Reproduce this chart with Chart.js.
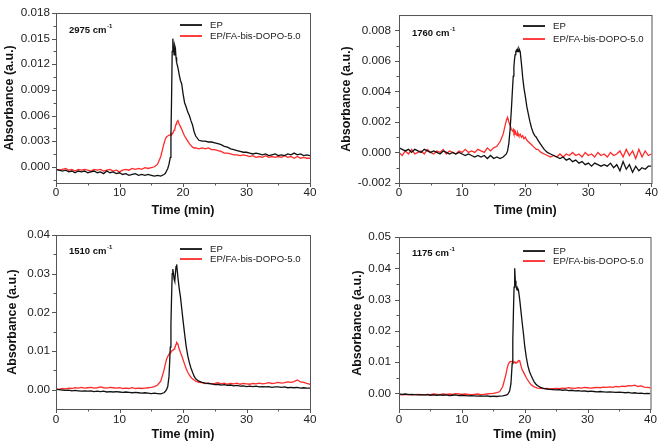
<!DOCTYPE html>
<html>
<head>
<meta charset="utf-8">
<script src="https://cdn.jsdelivr.net/npm/chart.js@4.4.1/dist/chart.umd.min.js"></script>
<style>
  html, body { margin: 0; padding: 0; background: #fff; }
  #wrap { position: relative; width: 661px; height: 444px; overflow: hidden; }
  #wrap canvas { position: absolute; }
</style>
</head>
<body>
<div id="wrap">
  <canvas id="c2975" width="330" height="222" style="left:0;top:0"></canvas>
  <canvas id="c1760" width="331" height="222" style="left:330px;top:0"></canvas>
  <canvas id="c1510" width="330" height="222" style="left:0;top:222px"></canvas>
  <canvas id="c1175" width="331" height="222" style="left:330px;top:222px"></canvas>
</div>
<script>
// time axis (min), shared by all four panels
const TIME = [0,0.5,1,1.5,2,2.5,3,3.5,4,4.5,5,5.5,6,6.5,7,7.5,8,8.5,9,9.5,10,10.5,11,11.5,12,12.5,13,13.5,14,14.5,15,
  15.5,16,16.5,17,
  17.2,17.4,17.6,17.8,18,18.1,18.2,18.3,18.4,18.5,18.6,18.7,18.8,18.9,19,19.2,19.4,19.6,19.8,20,
  20.25,20.5,20.75,21,21.25,21.5,21.75,22,22.5,23,
  23.5,24,24.5,25,25.5,26,26.5,27,27.5,28,28.5,29,29.5,30,30.5,31,31.5,32,32.5,33,33.5,34,34.5,35,35.5,36,36.5,37,37.5,38,38.5,39,39.5,40];

const SERIES_NAMES = ['EP', 'EP/FA-bis-DOPO-5.0'];
const X_TICKS = [0, 10, 20, 30, 40];

// 2975 cm-1
const EP_2975 = [-0.0003,-0.0004,-0.0005,-0.0004,-0.0006,-0.0005,-0.0007,-0.0005,-0.0006,-0.0005,-0.0007,-0.0006,-0.0005,-0.0007,-0.0006,-0.0008,-0.0005,-0.0007,-0.0006,-0.0008,-0.0007,-0.0009,-0.0008,-0.0010,-0.0009,-0.0008,-0.0010,-0.0009,-0.0010,-0.0009,-0.0010,
  -0.0011,-0.0010,-0.0011,-0.0009,
  -0.0008,-0.0005,-0.0002,0.0003,0.0011,0.0035,0.0080,0.0135,0.0150,0.0138,0.0131,0.0142,0.0139,0.0128,0.0122,0.0116,0.0108,0.0101,0.0097,0.0086,
  0.0075,0.0070,0.0064,0.0060,0.0054,0.0049,0.0041,0.0036,0.0031,0.0030,
  0.0030,0.0029,0.0029,0.0028,0.0027,0.0026,0.0024,0.0023,0.0021,0.0020,0.0019,0.0018,0.0017,0.0017,0.0016,0.0015,0.0016,0.0015,0.0014,0.0015,0.0013,0.0014,0.0015,0.0013,0.0014,0.0013,0.0015,0.0014,0.0016,0.0014,0.0015,0.0013,0.0014,0.0013];
const FA_2975 = [-0.0003,-0.0004,-0.0003,-0.0002,-0.0004,-0.0003,-0.0005,-0.0003,-0.0004,-0.0003,-0.0004,-0.0005,-0.0003,-0.0004,-0.0003,-0.0005,-0.0004,-0.0003,-0.0005,-0.0004,-0.0006,-0.0004,-0.0003,-0.0004,-0.0002,-0.0003,-0.0002,-0.0003,-0.0001,-0.0002,-0.0001,
  0.0000,0.0003,0.0012,0.0027,
  0.0032,0.0035,0.0036,0.0037,0.0037,0.0038,0.0037,0.0039,0.0040,0.0041,0.0043,0.0044,0.0047,0.0050,0.0052,0.0054,0.0050,0.0047,0.0044,0.0040,
  0.0036,0.0033,0.0030,0.0027,0.0025,0.0023,0.0022,0.0022,0.0021,0.0022,
  0.0021,0.0022,0.0020,0.0020,0.0019,0.0018,0.0016,0.0016,0.0015,0.0014,0.0014,0.0013,0.0014,0.0013,0.0012,0.0013,0.0011,0.0012,0.0011,0.0013,0.0011,0.0012,0.0011,0.0012,0.0011,0.0013,0.0011,0.0012,0.0010,0.0012,0.0010,0.0011,0.0010,0.0010];
const TICKS_2975 = [0, 0.003, 0.006, 0.009, 0.012, 0.015, 0.018];

// 1760 cm-1
const EP_1760 = [0.0003,0.0002,0.0001,0.0002,0.0000,0.0002,0.0001,0.0000,0.0002,0.0001,0.0000,0.0001,0.0000,-0.0001,0.0001,0.0000,-0.0001,0.0000,-0.0001,0.0000,-0.0001,-0.0002,-0.0001,-0.0002,-0.0003,-0.0002,-0.0003,-0.0002,-0.0004,-0.0002,-0.0004,
  -0.0003,-0.0004,-0.0003,-0.0001,
  0.0001,0.0006,0.0015,0.0028,0.0043,0.0050,0.0056,0.0061,0.0064,0.0066,0.0067,0.0066,0.0067,0.0066,0.0068,0.0066,0.0058,0.0049,0.0042,0.0037,
  0.0030,0.0025,0.0020,0.0016,0.0013,0.0011,0.0010,0.0008,0.0005,0.0002,
  0.0000,-0.0001,-0.0002,-0.0003,-0.0004,-0.0003,-0.0005,-0.0004,-0.0006,-0.0005,-0.0007,-0.0006,-0.0008,-0.0007,-0.0009,-0.0007,-0.0008,-0.0009,-0.0008,-0.0009,-0.0007,-0.0010,-0.0008,-0.0012,-0.0006,-0.0011,-0.0008,-0.0013,-0.0009,-0.0012,-0.0010,-0.0011,-0.0009,-0.0009];
const FA_1760 = [0.0000,-0.0002,0.0001,-0.0001,0.0002,-0.0001,0.0000,0.0001,-0.0001,0.0002,0.0000,-0.0001,0.0001,0.0000,0.0002,-0.0001,0.0001,0.0000,-0.0001,0.0001,0.0000,0.0002,0.0000,0.0001,0.0000,0.0002,0.0001,0.0000,0.0003,0.0001,0.0003,
  0.0004,0.0007,0.0012,0.0021,
  0.0023,0.0020,0.0018,0.0015,0.0014,0.0015,0.0013,0.0014,0.0012,0.0013,0.0012,0.0011,0.0013,0.0012,0.0011,0.0012,0.0010,0.0011,0.0009,0.0010,
  0.0008,0.0007,0.0006,0.0005,0.0004,0.0003,0.0002,0.0002,0.0000,-0.0001,
  -0.0002,-0.0003,-0.0002,-0.0003,-0.0001,-0.0003,-0.0001,-0.0002,0.0000,-0.0002,-0.0001,-0.0003,0.0000,-0.0002,-0.0001,-0.0003,0.0000,-0.0002,-0.0001,-0.0003,0.0000,-0.0002,-0.0001,0.0001,-0.0003,0.0002,-0.0002,0.0001,-0.0004,0.0002,-0.0003,0.0001,-0.0002,-0.0001];
const TICKS_1760 = [-0.002, 0, 0.002, 0.004, 0.006, 0.008];

// 1510 cm-1
const EP_1510 = [0.0001,0.0000,-0.0001,-0.0002,-0.0001,-0.0003,-0.0002,-0.0003,-0.0004,-0.0003,-0.0004,-0.0003,-0.0005,-0.0004,-0.0005,-0.0004,-0.0006,-0.0005,-0.0006,-0.0005,-0.0006,-0.0007,-0.0006,-0.0007,-0.0008,-0.0007,-0.0008,-0.0009,-0.0008,-0.0009,-0.0010,
  -0.0009,-0.0010,-0.0011,-0.0008,
  -0.0005,0.0000,0.0008,0.0035,0.0110,0.0170,0.0240,0.0300,0.0312,0.0300,0.0285,0.0280,0.0300,0.0318,0.0324,0.0290,0.0262,0.0240,0.0210,0.0180,
  0.0145,0.0112,0.0088,0.0070,0.0056,0.0045,0.0035,0.0028,0.0022,0.0019,
  0.0017,0.0016,0.0015,0.0013,0.0014,0.0012,0.0013,0.0011,0.0012,0.0010,0.0011,0.0009,0.0010,0.0008,0.0009,0.0008,0.0009,0.0007,0.0008,0.0007,0.0008,0.0006,0.0007,0.0007,0.0006,0.0007,0.0005,0.0006,0.0005,0.0006,0.0004,0.0005,0.0004,0.0004];
const FA_1510 = [0.0002,0.0001,0.0003,0.0002,0.0004,0.0003,0.0005,0.0004,0.0006,0.0004,0.0005,0.0006,0.0004,0.0005,0.0007,0.0005,0.0004,0.0006,0.0005,0.0004,0.0005,0.0003,0.0004,0.0003,0.0005,0.0003,0.0004,0.0003,0.0004,0.0005,0.0006,
  0.0008,0.0012,0.0022,0.0050,
  0.0065,0.0078,0.0086,0.0092,0.0096,0.0098,0.0100,0.0101,0.0102,0.0104,0.0105,0.0108,0.0112,0.0118,0.0122,0.0118,0.0105,0.0096,0.0088,0.0078,
  0.0066,0.0054,0.0045,0.0038,0.0032,0.0028,0.0025,0.0022,0.0019,0.0018,
  0.0016,0.0017,0.0015,0.0016,0.0018,0.0015,0.0017,0.0014,0.0016,0.0015,0.0017,0.0014,0.0016,0.0015,0.0014,0.0016,0.0015,0.0017,0.0015,0.0016,0.0018,0.0016,0.0017,0.0019,0.0017,0.0018,0.0020,0.0019,0.0021,0.0025,0.0020,0.0019,0.0016,0.0014];
const TICKS_1510 = [0, 0.01, 0.02, 0.03, 0.04];

// 1175 cm-1
const EP_1175 = [-0.0002,-0.0003,-0.0002,-0.0004,-0.0003,-0.0004,-0.0005,-0.0004,-0.0005,-0.0004,-0.0006,-0.0005,-0.0006,-0.0005,-0.0006,-0.0005,-0.0007,-0.0006,-0.0005,-0.0007,-0.0006,-0.0007,-0.0008,-0.0007,-0.0008,-0.0009,-0.0008,-0.0009,-0.0008,-0.0010,-0.0009,
  -0.0010,-0.0009,-0.0008,-0.0006,
  -0.0004,0.0000,0.0008,0.0030,0.0095,0.0170,0.0260,0.0340,0.0400,0.0360,0.0345,0.0335,0.0330,0.0335,0.0330,0.0300,0.0262,0.0225,0.0190,0.0150,
  0.0115,0.0088,0.0070,0.0058,0.0047,0.0037,0.0030,0.0025,0.0019,0.0016,
  0.0014,0.0013,0.0012,0.0011,0.0012,0.0010,0.0011,0.0009,0.0010,0.0008,0.0009,0.0007,0.0008,0.0006,0.0007,0.0006,0.0005,0.0006,0.0005,0.0004,0.0005,0.0004,0.0003,0.0004,0.0003,0.0002,0.0003,0.0001,0.0002,0.0000,0.0001,-0.0001,0.0000,-0.0001];
const FA_1175 = [-0.0004,-0.0005,-0.0004,-0.0003,-0.0005,-0.0004,-0.0003,-0.0004,-0.0005,-0.0003,-0.0004,-0.0002,-0.0003,-0.0004,-0.0002,-0.0003,-0.0002,-0.0003,-0.0001,-0.0002,-0.0003,-0.0002,-0.0003,-0.0004,-0.0003,-0.0002,-0.0004,-0.0003,-0.0002,-0.0001,0.0000,
  0.0002,0.0005,0.0022,0.0060,
  0.0080,0.0094,0.0100,0.0102,0.0101,0.0103,0.0100,0.0098,0.0099,0.0097,0.0099,0.0098,0.0100,0.0102,0.0105,0.0104,0.0088,0.0075,0.0068,0.0060,
  0.0050,0.0042,0.0034,0.0028,0.0024,0.0021,0.0019,0.0017,0.0016,0.0015,
  0.0016,0.0014,0.0015,0.0016,0.0015,0.0017,0.0016,0.0018,0.0017,0.0016,0.0018,0.0017,0.0019,0.0018,0.0017,0.0018,0.0019,0.0018,0.0020,0.0019,0.0021,0.0019,0.0022,0.0021,0.0023,0.0022,0.0025,0.0024,0.0026,0.0022,0.0024,0.0020,0.0019,0.0018];
const TICKS_1175 = [0, 0.01, 0.02, 0.03, 0.04, 0.05];

[EP_2975, FA_2975, EP_1760, FA_1760, EP_1510, FA_1510, EP_1175, FA_1175].forEach((a, i) => {
  if (a.length !== TIME.length) throw new Error('series ' + i + ' has ' + a.length + ' points');
});

const FONT = '"Liberation Sans", Arial, sans-serif';

// layout of each panel (canvas size, plot box inside it)
const panels = [
  { id: 'c2975', band: '2975', ep: EP_2975, fa: FA_2975, yTicks: TICKS_2975, yMin: -0.0019, yMax: 0.018, dec: 3,
    w: 330, h: 222, box: { l: 56, t: 6, r: 310, b: 183 }, yTitlePad: 2.5, xTitlePad: 3.8, xTickPad: 3, yTickPad: 6, legY: [12, 23], noteY: 17 },
  { id: 'c1760', band: '1760', ep: EP_1760, fa: FA_1760, yTicks: TICKS_1760, yMin: -0.002, yMax: 0.009, dec: 3,
    w: 331, h: 222, box: { l: 69, t: 5, r: 323, b: 183 }, yTitlePad: 9, xTitlePad: 3.8, xTickPad: 3, yTickPad: 8, legY: [11, 24], noteY: 18 },
  { id: 'c1510', band: '1510', ep: EP_1510, fa: FA_1510, yTicks: TICKS_1510, yMin: -0.005, yMax: 0.04, dec: 2,
    w: 330, h: 222, box: { l: 56, t: 9, r: 310, b: 187 }, yTitlePad: 5.5, xTitlePad: 2.2, xTickPad: 4, yTickPad: 6, legY: [14, 24], noteY: 16 },
  { id: 'c1175', band: '1175', ep: EP_1175, fa: FA_1175, yTicks: TICKS_1175, yMin: -0.005, yMax: 0.05, dec: 2,
    w: 331, h: 222, box: { l: 69, t: 9, r: 323, b: 187 }, yTitlePad: 20, xTitlePad: 2.2, xTickPad: 4, yTickPad: 8, legY: [14, 24], noteY: 16 }
];

// frame, outward major/minor ticks, legend and band label
const decor = {
  id: 'decor',
  afterDraw(chart, args, opts) {
    const { ctx, chartArea: a, scales } = chart;
    const p = opts.panel;
    ctx.save();
    ctx.strokeStyle = '#555';
    ctx.lineWidth = 1;
    ctx.strokeRect(a.left + 0.5, a.top + 0.5, a.right - a.left, a.bottom - a.top);

    const xs = scales.x, ys = scales.y;
    ctx.beginPath();
    X_TICKS.forEach((v, i) => {
      const px = Math.round(xs.getPixelForValue(v)) + 0.5;
      ctx.moveTo(px, a.bottom); ctx.lineTo(px, a.bottom + 4);
      if (i < X_TICKS.length - 1) {
        const mx = Math.round(xs.getPixelForValue((v + X_TICKS[i + 1]) / 2)) + 0.5;
        ctx.moveTo(mx, a.bottom); ctx.lineTo(mx, a.bottom + 2.5);
      }
    });
    p.yTicks.forEach((v, i) => {
      const py = Math.round(ys.getPixelForValue(v)) + 0.5;
      ctx.moveTo(a.left, py); ctx.lineTo(a.left - 4, py);
      const next = i < p.yTicks.length - 1 ? p.yTicks[i + 1] : null;
      const prev = i > 0 ? p.yTicks[i - 1] : null;
      const step = next !== null ? next - v : v - prev;
      [v + step / 2, v - step / 2].forEach(m => {
        if (m > p.yMin && m < p.yMax && (m > v || i === 0)) {
          const my = Math.round(ys.getPixelForValue(m)) + 0.5;
          ctx.moveTo(a.left, my); ctx.lineTo(a.left - 2.5, my);
        }
      });
    });
    ctx.stroke();

    // legend
    const lx = a.left + 124;
    const colors = ['#111', '#ff2a2a'];
    ctx.font = '9.6px ' + FONT;
    ctx.textBaseline = 'middle';
    SERIES_NAMES.forEach((name, i) => {
      const ly = a.top + p.legY[i];
      ctx.strokeStyle = colors[i];
      ctx.lineWidth = 1.8;
      ctx.beginPath();
      ctx.moveTo(lx, ly); ctx.lineTo(lx + 22, ly);
      ctx.stroke();
      ctx.fillStyle = '#222';
      ctx.fillText(name, lx + 30, ly);
    });

    // band label with superscript
    const nx = a.left + 13, ny = a.top + p.noteY;
    ctx.fillStyle = '#111';
    ctx.font = 'bold 9.5px ' + FONT;
    const txt = p.band + ' cm';
    ctx.fillText(txt, nx, ny);
    const tw = ctx.measureText(txt).width;
    ctx.font = 'bold 6px ' + FONT;
    ctx.fillText('-1', nx + tw + 0.5, ny - 4);
    ctx.restore();
  }
};

panels.forEach(p => {
  const el = document.getElementById(p.id);
  new Chart(el, {
    type: 'line',
    data: {
      datasets: [
        {
          label: SERIES_NAMES[0],
          data: TIME.map((t, i) => ({ x: t, y: p.ep[i] })),
          borderColor: '#111',
          borderWidth: 1.3,
          pointRadius: 0,
          tension: 0
        },
        {
          label: SERIES_NAMES[1],
          data: TIME.map((t, i) => ({ x: t, y: p.fa[i] })),
          borderColor: '#ff2a2a',
          borderWidth: 1.3,
          pointRadius: 0,
          tension: 0
        }
      ]
    },
    options: {
      responsive: false,
      animation: false,
      events: [],
      layout: { padding: { left: 0, top: p.box.t, right: p.w - p.box.r, bottom: 0 } },
      plugins: {
        legend: { display: false },
        tooltip: { enabled: false },
        decor: { panel: p }
      },
      scales: {
        x: {
          type: 'linear',
          min: 0,
          max: 40,
          afterBuildTicks: s => { s.ticks = X_TICKS.map(v => ({ value: v })); },
          afterFit: s => { s.height = p.h - p.box.b; },
          grid: { display: false, drawTicks: false },
          border: { display: false },
          ticks: {
            padding: p.xTickPad,
            color: '#222',
            font: { family: FONT, size: 11.7 },
            maxRotation: 0
          },
          title: {
            display: true,
            text: 'Time (min)',
            color: '#111',
            font: { family: FONT, size: 12.5, weight: 'bold' },
            padding: { top: 0, bottom: p.xTitlePad }
          }
        },
        y: {
          min: p.yMin,
          max: p.yMax,
          afterBuildTicks: s => { s.ticks = p.yTicks.map(v => ({ value: v })); },
          afterFit: s => { s.width = p.box.l; },
          grid: { display: false, drawTicks: false },
          border: { display: false },
          ticks: {
            padding: p.yTickPad,
            color: '#222',
            font: { family: FONT, size: 11.7 },
            callback: v => v.toFixed(p.dec)
          },
          title: {
            display: true,
            text: 'Absorbance (a.u.)',
            color: '#111',
            font: { family: FONT, size: 12.5, weight: 'bold' },
            padding: { top: p.yTitlePad, bottom: 0 }
          }
        }
      }
    },
    plugins: [decor]
  });
});
</script>
</body>
</html>
